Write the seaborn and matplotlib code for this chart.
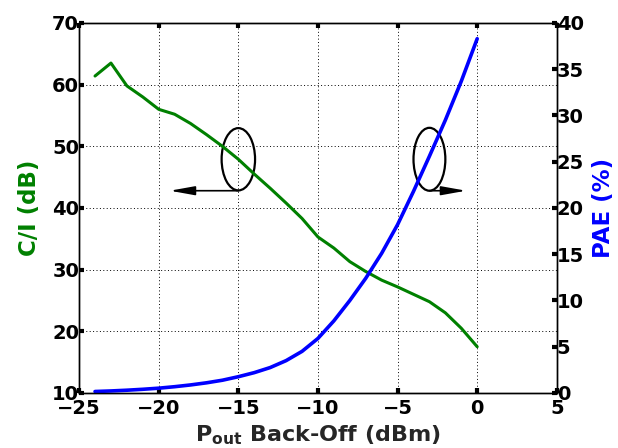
import numpy as np
import pandas as pd
import seaborn as sns
import matplotlib.pyplot as plt
from matplotlib.patches import Ellipse

# back-off levels (dBm)
backoff = [-24, -23, -22, -21, -20, -19, -18, -17, -16, -15, -14, -13, -12,
           -11, -10, -9, -8, -7, -6, -5, -4, -3, -2, -1, 0]
# carrier-to-intermod ratio (dB)
ci_db = [61.4, 63.5, 59.8, 58.0, 56.0, 55.2, 53.7, 51.9, 50.0, 47.9, 45.5, 43.2, 40.8,
         38.3, 35.3, 33.5, 31.3, 29.7, 28.3, 27.2, 26.0, 24.8, 23.0, 20.5, 17.5]
# power added efficiency (%)
pae = [0.16, 0.22, 0.3, 0.4, 0.52, 0.68, 0.87, 1.1, 1.38, 1.76, 2.2, 2.75, 3.5,
       4.5, 5.9, 7.8, 10.0, 12.4, 15.1, 18.2, 21.8, 25.6, 29.5, 33.7, 38.3]

xticks = [-25, -20, -15, -10, -5, 0, 5]
left_ticks = [10, 20, 30, 40, 50, 60, 70]
right_ticks = [0, 5, 10, 15, 20, 25, 30, 35, 40]

df = pd.DataFrame({"backoff": backoff, "ci": ci_db, "pae": pae})

sns.set_style("white")
plt.rcParams['font.family'] = ['DejaVu Sans']
plt.rcParams['font.weight'] = 'bold'
plt.rcParams['mathtext.default'] = 'bf'

fig = plt.figure(figsize=(6.18, 4.48), dpi=100)
ax1 = fig.add_axes([0.128, 0.1228, 0.773, 0.8259])
ax2 = ax1.twinx()

sns.lineplot(data=df, x="backoff", y="ci", color="#008000", lw=2.2, ax=ax1)
sns.lineplot(data=df, x="backoff", y="pae", color="#0000ff", lw=2.6, ax=ax2)

ax1.set_xlim(-25, 5)
ax1.set_ylim(10, 70)
ax2.set_ylim(0, 40)
ax1.set_xticks(xticks)
ax1.set_yticks(left_ticks)
ax2.set_yticks(right_ticks)
ax1.set_xticklabels([str(t).replace('-', '\u2212') for t in xticks])

ax1.grid(True, color='k', linestyle=(0, (1, 2.5)), linewidth=0.7)
ax2.grid(False)

for ax in (ax1, ax2):
    for s in ax.spines.values():
        s.set_color('k')
        s.set_linewidth(1.0)

ax1.tick_params(axis='x', direction='in', length=3.5, width=3, top=True, bottom=True,
                labelsize=14, pad=4, colors='k')
ax1.tick_params(axis='y', direction='in', length=3.5, width=3, left=True, right=False,
                labelsize=14, pad=0, colors='k')
ax2.tick_params(axis='y', direction='in', length=3.5, width=3, right=True,
                labelsize=14, pad=0, colors='k')
for lab in ax1.get_xticklabels() + ax1.get_yticklabels() + ax2.get_yticklabels():
    lab.set_fontweight('bold')

ax1.set_xlabel(r'$\mathbf{P_{out}}$ Back-Off (dBm)', fontsize=16, fontweight='bold', labelpad=4)
ax1.set_ylabel('C/I (dB)', fontsize=16.5, fontweight='bold', color='#008000', labelpad=8)
ax2.set_ylabel('PAE (%)', fontsize=16.5, fontweight='bold', color='#0000ff', labelpad=6)

# ellipses with arrows pointing to the matching axis
ax1.add_patch(Ellipse((-15, 47.9), width=2.1, height=10.1, fill=False, ec='k', lw=1.6))
ax1.add_patch(Ellipse((-3, 47.9), width=2.0, height=10.2, fill=False, ec='k', lw=1.6))
arrow = dict(arrowstyle='-|>,head_length=1.0,head_width=0.18', color='k', lw=1.2,
             mutation_scale=15, shrinkA=0, shrinkB=0)
ax1.annotate('', xy=(-19.3, 42.8), xytext=(-15, 42.8), arrowprops=arrow)
ax1.annotate('', xy=(-0.7, 42.8), xytext=(-3, 42.8), arrowprops=arrow)

fig.savefig('out.png', dpi=100)
